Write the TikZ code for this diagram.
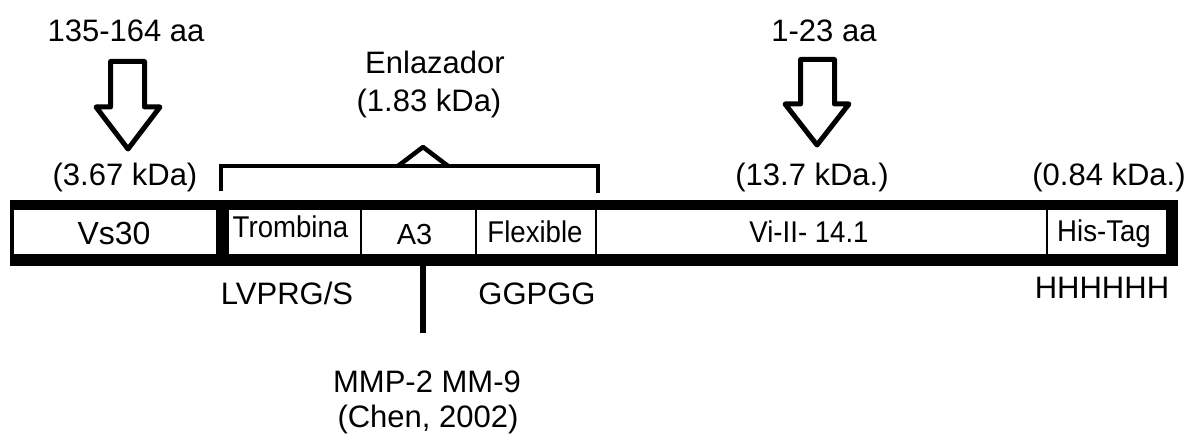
\documentclass[tikz,border=0pt]{standalone}
\usepackage{fontspec}
\setmainfont{Liberation Sans}
\newfontfamily\segfont[FakeStretch=0.92]{Liberation Sans}
\begin{document}
\begin{tikzpicture}[x=1pt,y=-1pt,
  lbl/.style={font=\fontsize{31}{36}\selectfont, inner sep=0pt, anchor=base},
  seglbl/.style={font=\segfont\fontsize{30}{36}\selectfont, inner sep=0pt, anchor=base},
  seg/.style={draw, line width=2pt, inner sep=0pt, minimum height=46pt},
  band/.style={fill=black},
  bracket/.style={line width=4.5pt},
  stem/.style={line width=5.5pt},
  blockarrow/.style={line width=5pt, line join=round}]
\useasboundingbox (0,0) rectangle (1191,435);

% segments of the construct
\node[seg, minimum width=204pt] (vs) at (115,232) {};
\node[seg, minimum width=133pt] (tromb) at (294.5,232) {};
\node[seg, minimum width=115pt] (a3) at (418.5,232) {};
\node[seg, minimum width=120pt] (flex) at (536,232) {};
\node[seg, minimum width=451pt] (vi) at (821.5,232) {};
\node[seg, minimum width=120pt] (his) at (1107,232) {};

% segment names
\node[seglbl, font=\fontsize{32}{38}\selectfont] (vslbl) at (114,245) {Vs30};
\node[seglbl] (tromblbl) at (290.5,238) {Trombina};
\node[seglbl, font=\fontsize{29}{34}\selectfont] (a3lbl) at (414.5,245) {A3};
\node[seglbl] (flexlbl) at (535,243) {Flexible};
\node[seglbl] (vilbl) at (809,243) {Vi-II- 14.1};
\node[seglbl] (hislbl) at (1104,242) {His-Tag};

% heavy frame around the construct
\fill[band] (10,200) rectangle (1178,209);
\fill[band] (10,255) rectangle (1178,266);
\fill[band] (10,200) rectangle (13,266);
\fill[band] (1167,200) rectangle (1178,266);
\fill[band] (217,200) rectangle (228,266);

% linker bracket
\coordinate (brL) at (221,191);
\coordinate (brR) at (598,193);
\coordinate (brTop) at (598,166);
\draw[bracket] (brL) |- (brTop) -- (brR);
\draw[bracket, line join=round] (398,166) -- (423,147) -- (448,166);

% cleavage site stem under A3
\coordinate (a3top) at (423,262);
\coordinate (a3end) at (423,333);
\draw[stem] (a3top) -- (a3end);

% open block arrows
\draw[blockarrow] (110.5,61.5) -- (144.5,61.5) -- (144.5,107) -- (160,107)
  -- (128,149) -- (96,107) -- (110.5,107) -- cycle;
\draw[blockarrow] (800.5,59.5) -- (834.5,59.5) -- (834.5,104) -- (849,104)
  -- (817,145) -- (785,104) -- (800.5,104) -- cycle;

% labels
\node[lbl] (aaL) at (126,42) {135-164 aa};
\node[lbl] (aaR) at (824,42) {1-23 aa};
\node[lbl] (enl) at (435,74) {Enlazador};
\node[lbl] (enlkda) at (429,112) {(1.83 kDa)};
\node[lbl] (kdaVs) at (125,186) {(3.67 kDa)};
\node[lbl] (kdaVi) at (812,186) {(13.7 kDa.)};
\node[lbl] (kdaHis) at (1109,186) {(0.84 kDa.)};
\node[lbl] (seqT) at (287,305) {LVPRG/S};
\node[lbl] (seqF) at (537,305) {GGPGG};
\node[lbl] (seqH) at (1102,299) {HHHHHH};
\node[lbl] (mmp) at (427,392) {MMP-2 MM-9};
\node[lbl] (chen) at (428,427) {(Chen, 2002)};
\end{tikzpicture}
\end{document}
